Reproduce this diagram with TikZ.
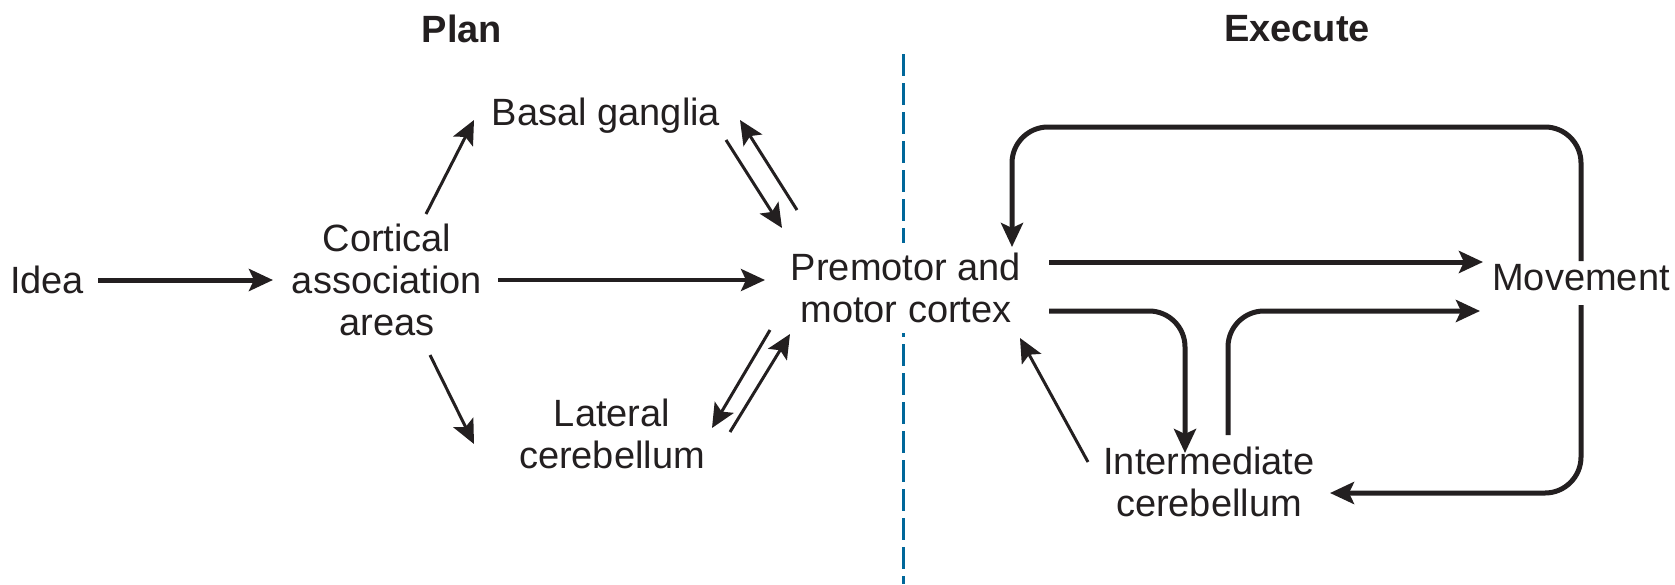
\documentclass[tikz,border=0pt]{standalone}
\usepackage{fontspec}
\setmainfont{Liberation Sans}
\usepackage{xcolor}
\usetikzlibrary{arrows.meta, positioning}
\definecolor{ink}{HTML}{231F20}
\definecolor{divider}{HTML}{00679A}

\begin{document}
\begin{tikzpicture}[x=0.5pt, y=-0.5pt,
        txt/.style={inner sep=0pt, align=center, text=ink, font=\fontsize{19}{21}\selectfont},
        heading/.style={txt, font=\fontsize{19}{21}\selectfont\bfseries},
        heavy/.style={draw=ink, line width=2.5pt, rounded corners=18pt, -{Stealth[length=12pt, width=11pt, inset=2.5pt]}},
        medium/.style={heavy, line width=2pt},
        light/.style={heavy, line width=1.5pt}]

        \useasboundingbox (0,0) rectangle (1675,584);

        % headings and divider
        \node[heading] (plan) at (462,29) {Plan};
        \node[heading] (execute) at (1297,29) {Execute};
        \draw[divider, line width=1.5pt, dash pattern=on 11pt off 3.5pt] (903,54) -- (903,584);

        % plan side
        \node[txt] (idea) at (47,280) {Idea};
        \node[txt] (cortical) at (387,280) {Cortical\\association\\areas};
        \node[txt] (basal) at (606,116) {Basal ganglia};
        \node[txt] (lateral) at (612,434) {Lateral\\cerebellum};

        % execute side
        \node[txt, fill=white, inner sep=5pt] (premotor) at (906,288) {Premotor and\\motor cortex};
        \node[txt] (movement) at (1581,278) {Movement};
        \node[txt] (inter) at (1209,482) {Intermediate\\cerebellum};

        \draw[heavy] ([shift={(51,0)}]idea.center) -- ([shift={(-114,0)}]cortical.center);
        \draw[medium] ([shift={(111,0)}]cortical.center) -- ([shift={(-141,-8)}]premotor.center);
        \draw[light] ([shift={(39,-66)}]cortical.center) -- ([shift={(-132,4)}]basal.center);
        \draw[light] ([shift={(43,75)}]cortical.center) -- ([shift={(-138,10)}]lateral.center);

        \draw[light] ([shift={(-109,-78)}]premotor.center) -- ([shift={(134,4)}]basal.center);
        \draw[light] ([shift={(120,24)}]basal.center) -- ([shift={(-124,-60)}]premotor.center);
        \draw[light] ([shift={(-136,42)}]premotor.center) -- ([shift={(100,-6)}]lateral.center);
        \draw[light] ([shift={(118,-2)}]lateral.center) -- ([shift={(-116,46)}]premotor.center);

        \draw[heavy] ([shift={(143,-26)}]premotor.center) -- ([shift={(-98,-16)}]movement.center);
        \draw[heavy] ([shift={(143,23)}]premotor.center) -| ([shift={(-24,-29)}]inter.center);
        \draw[heavy] ([shift={(19,-47)}]inter.center) |- ([shift={(-101,33)}]movement.center);
        \draw[light] ([shift={(-121,-20)}]inter.center) -- ([shift={(114,50)}]premotor.center);

        % feedback loops from movement
        \draw[heavy] ([shift={(0,-17)}]movement.center) -- ++(0,-134) -| ([shift={(106,-41)}]premotor.center);
        \draw[heavy] ([shift={(0,27)}]movement.center) |- ([shift={(121,11)}]inter.center);
\end{tikzpicture}
\end{document}
